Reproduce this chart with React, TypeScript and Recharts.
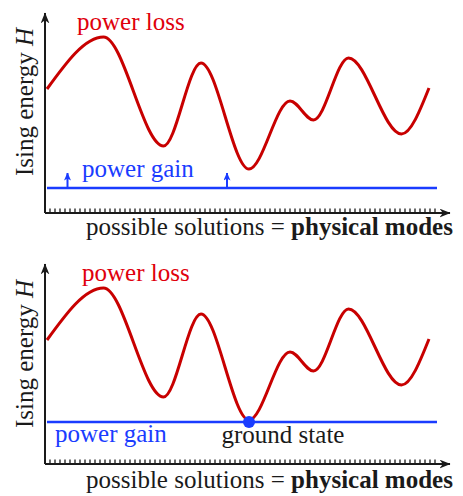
import { LineChart, Line, XAxis, YAxis, ReferenceLine, ReferenceDot } from 'recharts'

// energy landscape: x = solution (mode) index, y = Ising energy, read at the extrema
const MODE_X = [0.4, 11.7, 23.7, 31.2, 40.8, 49, 53.7, 60.7, 71.3, 76.8]
const ENERGY = [6.2, 8.8, 3.35, 7.5, 2.2, 5.6, 4.65, 7.75, 3.95, 6.25]
const MODE_TICKS = Array.from({ length: 78 }, (_, i) => i + 1)
const X_MAX = 81
const Y_MAX = 10

// power gain level per panel, and the pump arrows of the first panel
const GAIN_LEVELS = [1.25, 2.1]
const GAIN_RANGE = [0.4, 78.4]
const PUMP_X = [4.5, 36.4]
const PUMP_TOP = 2.0

const FONT = 'Liberation Serif'
const RED_LINE = '#c80000'
const RED_TEXT = '#e0000c'
const BLUE = '#1a3cff'
const INK = '#1a1a1a'

const W = 463
const H = 245

const rows = MODE_X.map((m, i) => ({ mode: m, energy: ENERGY[i] }))
const groundIdx = ENERGY.indexOf(Math.min(...ENERGY))

type Note = { text: string; x: number; y: number; color: string; anchor?: string }

type PanelOpts = {
  id: string
  gain: number
  pumps: boolean
  ground: boolean
  notes: Note[]
  xTitleY: number
  yTitleY: number
}

const panel = ({ id, gain, pumps, ground, notes, xTitleY, yTitleY }: PanelOpts) => (
  <div style={{ position: 'relative', width: W, height: H }}>
    <LineChart width={W} height={H} data={rows} margin={{ top: 13, right: 13, left: 44, bottom: 0 }}>
      <defs>
        <marker id={`${id}-axis`} viewBox="0 0 10 8" refX={9.5} refY={4} markerWidth={11} markerHeight={9}
          markerUnits="userSpaceOnUse" orient="auto">
          <path d="M0,0 L10,4 L0,8 L3,4 z" fill={INK} />
        </marker>
        <marker id={`${id}-pump`} viewBox="0 0 8 7" refX={7.5} refY={3.5} markerWidth={8} markerHeight={7}
          markerUnits="userSpaceOnUse" orient="auto">
          <path d="M0,0 L8,3.5 L0,7 L2,3.5 z" fill={BLUE} />
        </marker>
      </defs>
      <XAxis dataKey="mode" type="number" domain={[0, X_MAX]} allowDataOverflow height={32}
        tick={false} tickLine={false} axisLine={false} />
      <YAxis type="number" domain={[0, Y_MAX]} allowDataOverflow width={1}
        tick={false} tickLine={false} axisLine={false} />
      {/* axes with arrow heads and the comb of possible solutions */}
      <ReferenceLine segment={[{ x: 0, y: 0 }, { x: X_MAX, y: 0 }]} stroke={INK} strokeWidth={2}
        markerEnd={`url(#${id}-axis)`} ifOverflow="visible" />
      <ReferenceLine segment={[{ x: 0, y: 0 }, { x: 0, y: Y_MAX }]} stroke={INK} strokeWidth={2}
        markerEnd={`url(#${id}-axis)`} ifOverflow="visible" />
      {MODE_TICKS.map((t) => (
        <ReferenceLine key={`t-${t}`} segment={[{ x: t, y: 0 }, { x: t, y: 0.22 }]} stroke={INK}
          strokeWidth={1.3} ifOverflow="visible" />
      ))}
      <ReferenceLine segment={[{ x: GAIN_RANGE[0], y: gain }, { x: GAIN_RANGE[1], y: gain }]}
        stroke={BLUE} strokeWidth={2.5} ifOverflow="visible" />
      {pumps && PUMP_X.map((x) => (
        <ReferenceLine key={`pump-${x}`} segment={[{ x, y: gain }, { x, y: PUMP_TOP }]}
          stroke={BLUE} strokeWidth={2} markerEnd={`url(#${id}-pump)`} ifOverflow="visible" />
      ))}
      <Line type="monotone" dataKey="energy" stroke={RED_LINE} strokeWidth={3}
        dot={false} activeDot={false} isAnimationActive={false} />
      {ground && (
        <ReferenceDot x={MODE_X[groundIdx]} y={gain} r={6} fill={BLUE} stroke="none" />
      )}
    </LineChart>
    <svg width={W} height={H} style={{ position: 'absolute', left: 0, top: 0, pointerEvents: 'none' }}
      fontFamily={FONT} fontSize={25}>
      <text transform={`translate(33, ${yTitleY}) rotate(-90)`} textAnchor="middle" fill={INK}>
        Ising energy <tspan fontStyle="italic">H</tspan>
      </text>
      <text x={86} y={xTitleY} fill={INK}>
        possible solutions = <tspan fontWeight="bold">physical modes</tspan>
      </text>
      {notes.map((n) => (
        <text key={n.text} x={n.x} y={n.y} fill={n.color} textAnchor={n.anchor ?? 'start'}>{n.text}</text>
      ))}
    </svg>
  </div>
)

export default function App() {
  return (
    <div style={{ position: 'absolute', left: 0, top: 0, width: W, background: '#fff' }}>
      {panel({
        id: 'p1', gain: GAIN_LEVELS[0], pumps: true, ground: false, xTitleY: 235, yTitleY: 102,
        notes: [
          { text: 'power loss', x: 77, y: 30, color: RED_TEXT },
          { text: 'power gain', x: 82, y: 177, color: BLUE },
        ],
      })}
      <div style={{ height: 6 }} />
      {panel({
        id: 'p2', gain: GAIN_LEVELS[1], pumps: false, ground: true, xTitleY: 237, yTitleY: 103,
        notes: [
          { text: 'power loss', x: 82, y: 30, color: RED_TEXT },
          { text: 'power gain', x: 55, y: 191, color: BLUE },
          { text: 'ground state', x: 283, y: 192, color: INK, anchor: 'middle' },
        ],
      })}
    </div>
  )
}
